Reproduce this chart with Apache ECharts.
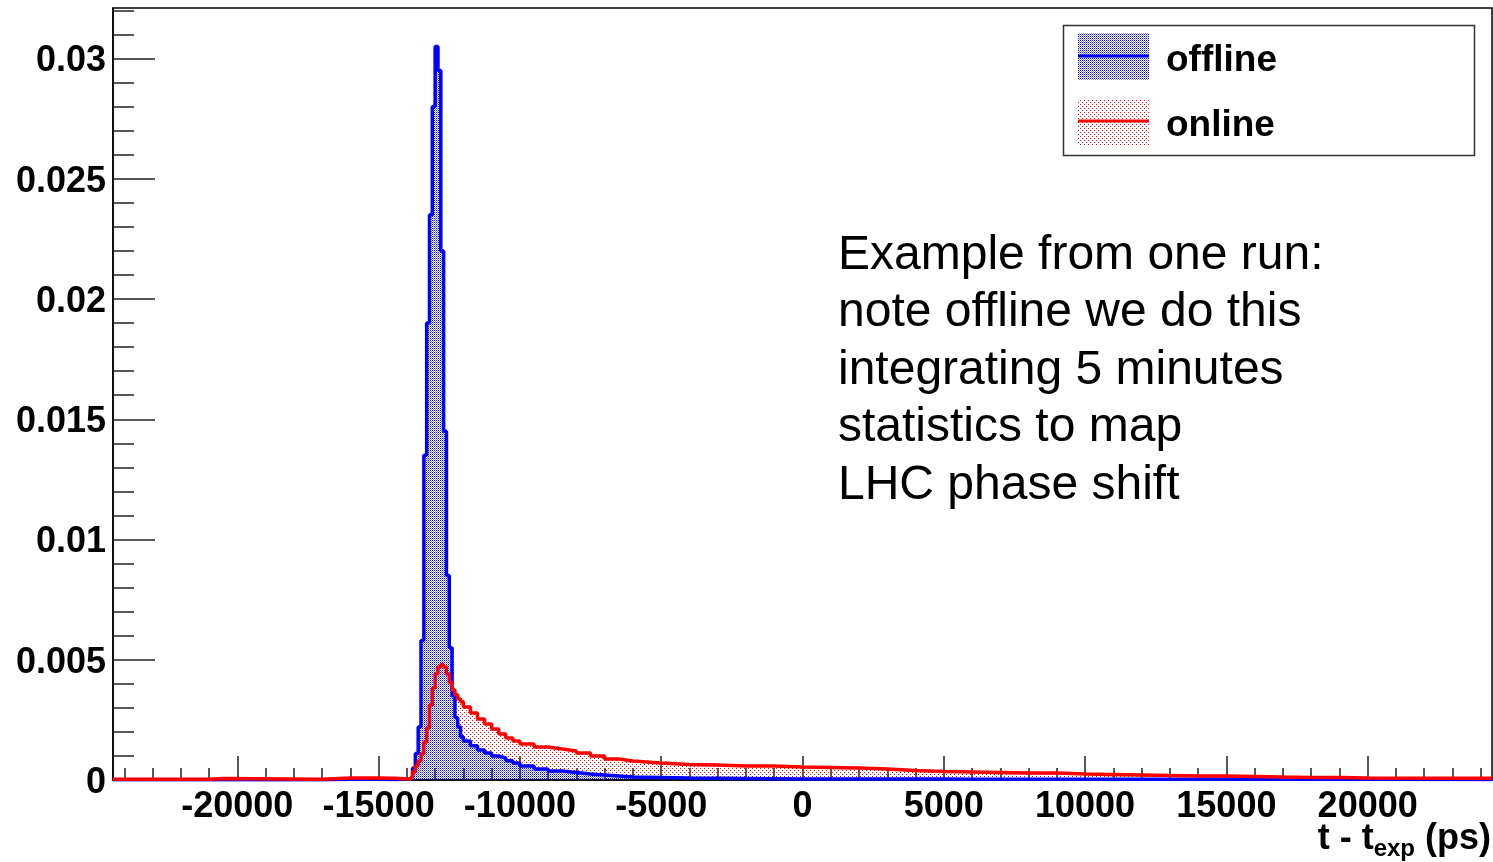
<!DOCTYPE html>
<html>
<head>
<meta charset="utf-8">
<script src="https://cdn.jsdelivr.net/npm/echarts@6/dist/echarts.min.js"></script>
<style>
  html, body { margin: 0; padding: 0; background: #fff; }
  #chart { width: 1493px; height: 862px; }
</style>
</head>
<body>
<div id="chart"></div>
<script>
// bin edges in ps (variable width: fine near the peak, coarse in the tails)
const edges = [
  -24400, -21000, -20500, -17000, -16000, -15000, -14400, -14000,
  -13900, -13800, -13700, -13600, -13500, -13400, -13300, -13200, -13100, -13000,
  -12900, -12800, -12700, -12600, -12500, -12400, -12300, -12200, -12100, -12000,
  -11750, -11500, -11250, -11000, -10750, -10500, -10250, -10000,
  -9500, -9000, -8500, -8000, -7500, -7000, -6500, -6000,
  -5000, -4000, -3000, -2000, -1000, 0,
  1000, 2000, 3000, 4000, 5000, 6000, 7000, 8000, 9000, 10000,
  11000, 12000, 13000, 14000, 15000, 16000, 17000, 18000, 19000, 20000,
  24400
];

// normalised contents per bin
const offline = [
  0.00001, 0.00001, 0.00001, 0.00003, 0.00003, 0.00002, 0.00003,
  0.00004, 0.00012, 0.0005, 0.0011, 0.0022, 0.0058, 0.0135, 0.019, 0.0235, 0.028,
  0.0305, 0.0295, 0.022, 0.0145, 0.0085, 0.0055, 0.0035, 0.0026, 0.0022, 0.0018,
  0.00162, 0.00142, 0.00125, 0.00112, 0.001, 0.00092, 0.0008, 0.00071,
  0.00058, 0.00046, 0.00037, 0.00031, 0.00025, 0.00021, 0.00017, 0.00012,
  0.0001, 0.00008, 0.00007, 0.00006, 0.00005, 0.00004,
  0.00004, 0.00004, 0.00004, 0.00004, 0.00004, 0.00003, 0.00003, 0.00003, 0.00003, 0.00003,
  0.00003, 0.00003, 0.00003, 0.00003, 0.00003, 0.00003, 0.00003, 0.00003, 0.00003, 0.00003,
  0.00002
];

const online = [
  0.00003, 0.00006, 0.00003, 0.00008, 0.00008, 0.00007, 0.00004,
  0.00004, 0.00012, 0.00033, 0.00058, 0.00079, 0.00108, 0.00158, 0.00216, 0.00312, 0.00383,
  0.00441, 0.0047, 0.00479, 0.0047, 0.00441, 0.00404, 0.00374, 0.00354, 0.00337, 0.00325,
  0.00304, 0.00279, 0.00254, 0.00233, 0.00212, 0.00191, 0.00175, 0.00162,
  0.0015, 0.00137, 0.00129, 0.00121, 0.00112, 0.001, 0.00087, 0.00079,
  0.00071, 0.00064, 0.00062, 0.00058, 0.00058, 0.00054,
  0.00052, 0.0005, 0.00046, 0.0004, 0.00035, 0.00033, 0.00031, 0.00029, 0.00029, 0.00025,
  0.00023, 0.00021, 0.00019, 0.00017, 0.00017, 0.00015, 0.00012, 0.0001, 0.0001, 0.00008,
  0.00007
];

const xLabels = [-20000, -15000, -10000, -5000, 0, 5000, 10000, 15000, 20000];
const yLabels = [0, 0.005, 0.01, 0.015, 0.02, 0.025, 0.03];

const legendNames = ['offline', 'online'];
const noteLines = [
  'Example from one run:',
  'note offline we do this',
  'integrating 5 minutes',
  'statistics to map',
  'LHC phase shift'
];

const FONT = '"Liberation Sans", Arial, Helvetica, sans-serif';

// minor ticks every 1000 ps / 0.001
let xMinor = [];
for (let v = -24000; v <= 24000; v += 1000) xMinor.push(v);
let yMinor = [];
for (let i = 0; i <= 32; i++) yMinor.push(+(i * 0.001).toFixed(3));

const makePattern = (size, dots) => {
  let c = document.createElement('canvas');
  c.width = size; c.height = size;
  let ctx = c.getContext('2d');
  dots.forEach(d => { ctx.fillStyle = d[2]; ctx.fillRect(d[0], d[1], 1, 1); });
  return c;
};

const bluePat = makePattern(2, [[0, 0, '#0000ff'], [1, 1, 'rgba(0,0,255,0.45)']]);
const redPat = makePattern(4, [[0, 0, '#ff0000'], [2, 2, '#ff0000']]);

// histogram -> step points
const steps = (vals) => {
  let pts = vals.map((v, i) => [edges[i], v]);
  pts.push([edges[edges.length - 1], vals[vals.length - 1]]);
  return pts;
};

const chart = echarts.init(document.getElementById('chart'), null, { renderer: 'canvas' });

chart.setOption({
  animation: false,
  backgroundColor: '#fff',
  textStyle: { fontFamily: FONT },
  grid: {
    left: 113, right: 1, top: 8, bottom: 82,
    show: true, borderColor: '#000', borderWidth: 1.5, backgroundColor: 'transparent'
  },
  xAxis: [
    {
      type: 'value', min: -24400, max: 24400, position: 'bottom',
      axisLine: { show: true, onZero: false, lineStyle: { color: '#000', width: 1.5 } },
      splitLine: { show: false },
      axisTick: { show: true, inside: true, length: 24, customValues: xLabels, lineStyle: { color: '#222', width: 1.5 } },
      axisLabel: {
        customValues: xLabels, color: '#000', fontSize: 36, fontWeight: 'bold',
        fontFamily: FONT, margin: 9, formatter: (v) => String(v)
      }
    },
    {
      type: 'value', min: -24400, max: 24400, position: 'bottom',
      axisLine: { show: false, onZero: false },
      splitLine: { show: false },
      axisTick: { show: true, inside: true, length: 12, customValues: xMinor, lineStyle: { color: '#222', width: 1.5 } },
      axisLabel: { show: false }
    }
  ],
  yAxis: [
    {
      type: 'value', min: 0, max: 0.0321, position: 'left',
      axisLine: { show: true, onZero: false, lineStyle: { color: '#000', width: 1.5 } },
      splitLine: { show: false },
      axisTick: { show: true, inside: true, length: 42, customValues: yLabels, lineStyle: { color: '#222', width: 1.5 } },
      axisLabel: {
        customValues: yLabels, color: '#000', fontSize: 36, fontWeight: 'bold',
        fontFamily: FONT, margin: 7, verticalAlign: 'top', lineHeight: 6,
        formatter: (v) => String(v)
      }
    },
    {
      type: 'value', min: 0, max: 0.0321, position: 'left',
      axisLine: { show: false, onZero: false },
      splitLine: { show: false },
      axisTick: { show: true, inside: true, length: 21, customValues: yMinor, lineStyle: { color: '#222', width: 1.5 } },
      axisLabel: { show: false }
    }
  ],
  series: [
    {
      name: 'online-fill', type: 'line', step: 'end', data: steps(online),
      symbol: 'none', silent: true, z: 2,
      lineStyle: { width: 0, opacity: 0 },
      areaStyle: { color: { image: redPat, repeat: 'repeat' }, opacity: 1 }
    },
    {
      name: 'offline-fill', type: 'line', step: 'end', data: steps(offline),
      symbol: 'none', silent: true, z: 3,
      lineStyle: { width: 0, opacity: 0 },
      areaStyle: { color: { image: bluePat, repeat: 'repeat' }, opacity: 1 }
    },
    {
      name: legendNames[0], type: 'line', step: 'end', data: steps(offline),
      symbol: 'none', silent: true, z: 4,
      lineStyle: { color: '#0000ff', width: 3.5 }
    },
    {
      name: legendNames[1], type: 'line', step: 'end', data: steps(online),
      symbol: 'none', silent: true, z: 5,
      lineStyle: { color: '#ff0000', width: 3.5 }
    }
  ],
  graphic: [
    // legend box
    { type: 'rect', z: 100, shape: { x: 1063.5, y: 25.5, width: 411, height: 130 },
      style: { fill: '#fff', stroke: '#333', lineWidth: 1.5 } },
    { type: 'rect', z: 101, shape: { x: 1078, y: 33, width: 71, height: 47 },
      style: { fill: { image: bluePat, repeat: 'repeat' } } },
    { type: 'line', z: 102, shape: { x1: 1078, y1: 56, x2: 1149, y2: 56 },
      style: { stroke: '#0000ff', lineWidth: 3 } },
    { type: 'text', z: 102, x: 1166, y: 61,
      style: { text: legendNames[0], font: 'bold 37px ' + FONT, fill: '#000', verticalAlign: 'middle' } },
    { type: 'rect', z: 101, shape: { x: 1078, y: 100, width: 71, height: 45 },
      style: { fill: { image: redPat, repeat: 'repeat' } } },
    { type: 'line', z: 102, shape: { x1: 1078, y1: 121, x2: 1149, y2: 121 },
      style: { stroke: '#ff0000', lineWidth: 3 } },
    { type: 'text', z: 102, x: 1166, y: 126,
      style: { text: legendNames[1], font: 'bold 37px ' + FONT, fill: '#000', verticalAlign: 'middle' } },
    // annotation
    { type: 'text', z: 100, x: 838, y: 227,
      style: { text: noteLines.join('\n'), font: '48px ' + FONT, fill: '#000', lineHeight: 57.5, verticalAlign: 'top' } },
    // x axis title
    { type: 'text', z: 100, x: 1491, y: 821,
      style: {
        text: '{m|t - t}{s|exp}{m| (ps)}', align: 'right', verticalAlign: 'top',
        rich: {
          m: { fontSize: 36, fontWeight: 'bold', fontFamily: FONT, fill: '#000', lineHeight: 40, verticalAlign: 'top' },
          s: { fontSize: 24, fontWeight: 'bold', fontFamily: FONT, fill: '#000', lineHeight: 14, verticalAlign: 'bottom' }
        }
      } }
  ]
});
</script>
</body>
</html>
